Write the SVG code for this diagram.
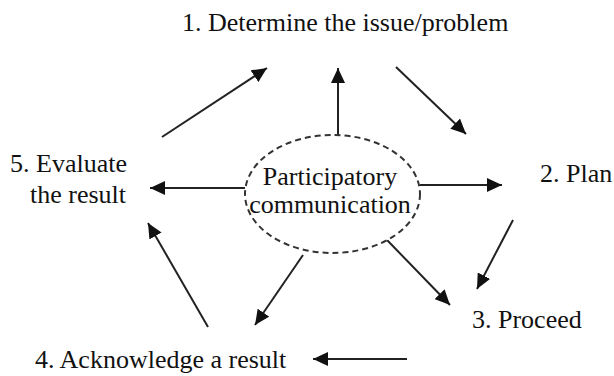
<svg xmlns="http://www.w3.org/2000/svg" width="614" height="376" viewBox="0 0 614 376">
<defs>
<marker id="ah" markerUnits="userSpaceOnUse" markerWidth="16" markerHeight="14" refX="15" refY="7" orient="auto">
<path d="M0,0 L15,7 L0,14 z" fill="#111"/>
</marker>
<style>
text{font-family:"Times New Roman",Times,Tinos,"Liberation Serif","Noto Serif","DejaVu Serif",serif;font-size:26px;fill:#111}
.arr{stroke:#222;stroke-width:2;fill:none;marker-end:url(#ah)}
.ell{fill:#fff;stroke:#333;stroke-width:2;stroke-dasharray:6 4}
</style>
</defs>
<rect width="614" height="376" fill="#fff"/>
<g id="connectors">
<line class="arr" x1="338" y1="135" x2="338" y2="68"/>
<line class="arr" x1="162" y1="137" x2="267" y2="68"/>
<line class="arr" x1="396" y1="67" x2="466" y2="134"/>
<line class="arr" x1="420" y1="185" x2="502" y2="185"/>
<line class="arr" x1="245" y1="188" x2="150" y2="188"/>
<line class="arr" x1="513" y1="220" x2="477" y2="289"/>
<line class="arr" x1="387" y1="240" x2="450" y2="305"/>
<line class="arr" x1="303" y1="255" x2="255" y2="325"/>
<line class="arr" x1="208" y1="327" x2="148" y2="223"/>
<line class="arr" x1="407" y1="359" x2="313" y2="359"/>
</g>
<g id="center">
<ellipse class="ell" cx="332.5" cy="194" rx="87.5" ry="59"/>
<text x="330" y="185" text-anchor="middle">Participatory</text>
<text x="330" y="213" text-anchor="middle">communication</text>
</g>
<g id="step1"><text x="182" y="31">1.  Determine the issue/problem</text></g>
<g id="step2"><text x="540" y="182">2. Plan</text></g>
<g id="step3"><text x="472" y="328">3. Proceed</text></g>
<g id="step4"><text x="35" y="368">4. Acknowledge a result</text></g>
<g id="step5"><text x="10" y="172">5. Evaluate</text><text x="30" y="203">the result</text></g>
</svg>
